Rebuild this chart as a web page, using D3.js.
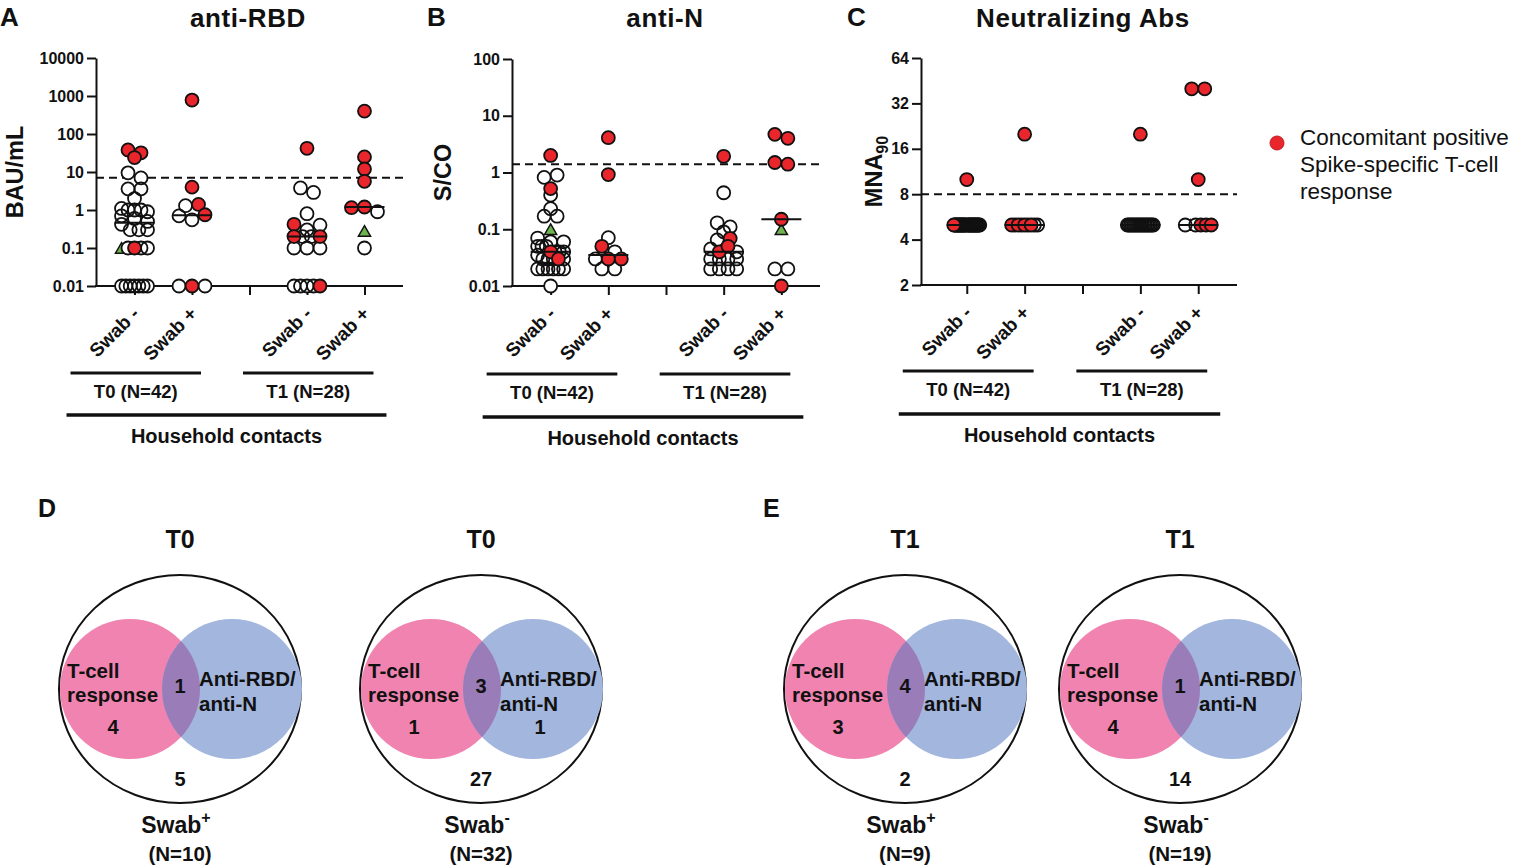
<!DOCTYPE html>
<html>
<head>
<meta charset="utf-8">
<title>Antibody and T-cell responses in household contacts</title>
<script src="https://d3js.org/d3.v7.min.js"></script>
<style>
  body { margin: 0; background: #fff; }
  svg { font-family: Arial, "Liberation Sans", Helvetica, sans-serif; }
</style>
</head>
<body>
<svg id="fig" width="1514" height="866"></svg>
<script>
// ---- data ----
// categories on the x axis (middle one is an empty spacer tick)
const groups = ["T0 Swab-", "T0 Swab+", "gap", "T1 Swab-", "T1 Swab+"];
const groupLabels = ["Swab -", "Swab +", "", "Swab -", "Swab +"];
const timeLabels = ["T0 (N=42)", "T1 (N=28)"];

// each point: [type, value]  o = open, r = concomitant T-cell response, t = triangle
// anti-RBD, BAU/mL
const rbdT0Neg = [["r",38],["r",32],["r",24],["o",9.5],["o",7],["o",3.6],["o",3.6],["o",2.0],
  ["o",1.1],["o",1.0],["o",1.0],["o",1.0],["o",0.9],["o",0.7],["o",0.6],["o",0.5],
  ["o",0.42],["o",0.3],["o",0.3],["o",0.3],
  ["t",0.1],["o",0.1],["r",0.1],["o",0.1],["o",0.1],
  ["o",0.01],["o",0.01],["o",0.01],["o",0.01],["o",0.01],["o",0.01],["o",0.01]];
const rbdT0Pos = [["r",780],["r",4],["o",1.3],["r",1.4],["o",0.7],["o",0.55],["r",0.75],
  ["o",0.01],["r",0.01],["o",0.01]];
const rbdT1Neg = [["r",42],["o",3.8],["o",2.9],["o",0.8],["r",0.42],["o",0.3],["o",0.4],
  ["r",0.2],["o",0.2],["o",0.2],["r",0.2],["o",0.1],["o",0.1],["o",0.1],
  ["o",0.01],["o",0.01],["o",0.01],["o",0.01],["r",0.01]];
const rbdT1Pos = [["r",400],["r",25],["r",12],["r",5.7],["r",1.15],["r",1.2],["o",0.9],["t",0.28],["o",0.1]];
const rbdTicks = [0.01, 0.1, 1, 10, 100, 1000, 10000];
const rbdCutoff = 7.1;

// anti-N, S/CO
const nT0Neg = [["r",2.0],["o",0.82],["o",0.9],["r",0.52],["o",0.4],["o",0.23],["o",0.17],["o",0.17],
  ["t",0.1],["o",0.07],["o",0.06],["o",0.06],
  ["o",0.05],["o",0.05],["o",0.05],["r",0.04],["o",0.04],["o",0.04],["o",0.04],
  ["o",0.035],["o",0.03],["o",0.03],["o",0.03],["r",0.03],["o",0.03],
  ["o",0.02],["o",0.02],["o",0.02],["o",0.02],["o",0.02],["o",0.02],["o",0.01]];
const nT0Pos = [["r",4.1],["r",0.92],["o",0.071],["r",0.05],["o",0.04],["o",0.03],["r",0.03],["r",0.03],
  ["o",0.02],["o",0.02]];
const nT1Neg = [["r",1.93],["o",0.44],["o",0.13],["o",0.11],["o",0.09],["o",0.065],["r",0.069],
  ["o",0.045],["r",0.04],["r",0.05],["o",0.04],
  ["o",0.03],["o",0.03],["o",0.03],["o",0.03],["o",0.02],["o",0.02],["o",0.02],["o",0.02]];
const nT1Pos = [["r",4.7],["r",4.0],["r",1.5],["r",1.4],["r",0.15],["t",0.1],["o",0.02],["r",0.01],["o",0.02]];
const nTicks = [0.01, 0.1, 1, 10, 100];
const nCutoff = 1.4;

// neutralizing antibodies, MNA90
const cT0Neg = [["r",10],["r",5],
  ["o",5],["o",5],["o",5],["o",5],["o",5],["o",5],["o",5],["o",5],["o",5],["o",5],["o",5],["o",5],["o",5],["o",5],
  ["t",5],
  ["o",5],["o",5],["o",5],["o",5],["o",5],["o",5],["o",5],["o",5],["o",5],["o",5],["o",5],["o",5],["o",5],["o",5],["o",5]];
const cT0Pos = [["r",20],["r",5],["o",5],["r",5],["o",5],["r",5],["o",5],["r",5],["o",5],["o",5]];
const cT1Neg = [["r",20],["o",5],["o",5],["o",5],["o",5],["o",5],["o",5],["o",5],["o",5],["o",5],
  ["o",5],["o",5],["o",5],["o",5],["o",5],["o",5],["o",5],["o",5],["o",5]];
const cT1Pos = [["r",40],["r",40],["r",10],["o",5],["t",5],["o",5],["r",5],["r",5],["r",5]];
const cTicks = [2, 4, 8, 16, 32, 64];
const cCutoff = 8;

// Venn panels D and E
const vennTitles = ["T0", "T0", "T1", "T1"];
const vennTcellOnly = [4, 1, 3, 4];
const vennBoth = [1, 3, 4, 1];
const vennAbOnly = ["", "1", "", ""];
const vennNeither = [5, 27, 2, 14];
const vennSwab = ["+", "-", "+", "-"];
const vennN = ["(N=10)", "(N=32)", "(N=9)", "(N=19)"];

// ---- styling / layout ----
const RED = "#e8262b", GREEN = "#6db34f";
const PINK = "#f083b0", BLUE = "#a3b6de", PURPLE = "#9a7cb9";
const svg = d3.select("#fig");

const panels = [
  { letter: "A", letterX: 0, title: "anti-RBD", titleX: 248, yLabel: "BAU/mL", yLabelX: 15,
    axisX: 96, xEnd: 403, range: [96, 403], yTop: 58, yBot: 286, base: 10,
    domain: [0.01, 10000], ticks: rbdTicks, cutoff: rbdCutoff,
    data: [rbdT0Neg, rbdT0Pos, null, rbdT1Neg, rbdT1Pos], lineY: 373, hhY: 415 },
  { letter: "B", letterX: 427, title: "anti-N", titleX: 665, yLabel: "S/CO", yLabelX: 443,
    axisX: 512, xEnd: 820, range: [512, 820], yTop: 59, yBot: 286, base: 10,
    domain: [0.01, 100], ticks: nTicks, cutoff: nCutoff,
    data: [nT0Neg, nT0Pos, null, nT1Neg, nT1Pos], lineY: 374, hhY: 417 },
  { letter: "C", letterX: 847, title: "Neutralizing Abs", titleX: 1083, yLabel: "MNA", sub: "90", yLabelX: 874,
    axisX: 921, xEnd: 1237, range: [928, 1237], yTop: 58, yBot: 285, base: 2,
    domain: [2, 64], ticks: cTicks, cutoff: cCutoff,
    data: [cT0Neg, cT0Pos, null, cT1Neg, cT1Pos], lineY: 371, hhY: 414 }
];

// spread points of similar value into centred rows (GraphPad-like scatter)
function layoutGroup(pts, y, cx) {
  const d = 13, maxSpan = 26, tol = 6;
  const items = pts.map((p, i) => ({ type: p[0], v: p[1], i: i, py: y(p[1]) }));
  const sorted = items.slice().sort((a, b) => (a.py - b.py) || (a.i - b.i));
  const rows = [];
  let row = [];
  sorted.forEach(p => {
    if (row.length && p.py - row[0].py >= tol) { rows.push(row); row = []; }
    row.push(p);
  });
  if (row.length) rows.push(row);
  rows.forEach(rw => {
    rw.sort((a, b) => a.i - b.i);
    const n = rw.length;
    const s = n > 1 ? Math.min(d, maxSpan / (n - 1)) : 0;
    rw.forEach((p, k) => { p.px = cx + (k - (n - 1) / 2) * s; });
  });
  return items;
}

function boldText(g, x, y, str, size, anchor) {
  return g.append("text").attr("x", x).attr("y", y)
    .attr("text-anchor", anchor || "middle")
    .attr("font-weight", "bold").attr("font-size", size)
    .attr("fill", "#111").text(str);
}

const tri = d3.symbol(d3.symbolTriangle, 64);

panels.forEach(p => {
  const g = svg.append("g");
  const y = d3.scaleLog().base(p.base).domain(p.domain).range([p.yBot, p.yTop]);
  const x = d3.scalePoint().domain(groups).range(p.range).padding(0.67);

  // letter + title
  boldText(g, p.letterX, 26, p.letter, 26, "start");
  boldText(g, p.titleX, 27, p.title, 26).attr("letter-spacing", 0.6);

  // y label
  const yl = g.append("text")
    .attr("transform", `translate(${p.yLabelX + 8},${(p.yTop + p.yBot) / 2}) rotate(-90)`)
    .attr("text-anchor", "middle").attr("font-weight", "bold").attr("font-size", 23.5)
    .attr("fill", "#111").text(p.yLabel);
  if (p.sub) yl.append("tspan").attr("dy", 6).attr("font-size", 16).text(p.sub);

  // cutoff
  g.append("line")
    .attr("x1", p.axisX).attr("x2", p.xEnd)
    .attr("y1", y(p.cutoff)).attr("y2", y(p.cutoff))
    .attr("stroke", "#111").attr("stroke-width", 2).attr("stroke-dasharray", "8,5");

  // axes
  const yAxis = g.append("g").attr("transform", `translate(${p.axisX},0)`)
    .call(d3.axisLeft(y).tickValues(p.ticks).tickFormat(d3.format("~g")).tickSize(9).tickSizeOuter(0));
  const xAxis = g.append("g").attr("transform", `translate(0,${p.yBot})`)
    .call(d3.axisBottom(x).tickSize(9).tickFormat("").tickSizeOuter(0));
  xAxis.select(".domain").remove();
  g.append("line").attr("x1", p.axisX - 1).attr("x2", p.xEnd)
    .attr("y1", p.yBot).attr("y2", p.yBot).attr("stroke", "#111").attr("stroke-width", 2);
  [yAxis, xAxis].forEach(a => {
    a.selectAll("path, line").attr("stroke", "#111").attr("stroke-width", 2);
    a.selectAll("text").attr("font-size", 16).attr("font-weight", "bold")
      .attr("fill", "#111").attr("font-family", "Arial, 'Liberation Sans', sans-serif");
  });

  // rotated category labels
  groups.forEach((k, i) => {
    if (!groupLabels[i]) return;
    g.append("text")
      .attr("transform", `translate(${x(k) + 6},${p.yBot + 29}) rotate(-45)`)
      .attr("text-anchor", "end").attr("font-weight", "bold").attr("font-size", 19)
      .attr("fill", "#111").text(groupLabels[i]);
  });

  // points + medians: triangles, open fills, open outlines, then red points on top
  groups.forEach((k, i) => {
    const pts = p.data[i];
    if (!pts) return;
    const cx = x(k);
    const items = layoutGroup(pts, y, cx);
    const open = items.filter(d => d.type === "o");
    g.selectAll(null).data(items.filter(d => d.type === "t")).join("path")
      .attr("d", tri())
      .attr("transform", d => `translate(${d.px},${d.py + 1.7})`)
      .attr("fill", GREEN).attr("stroke", "#111").attr("stroke-width", 1.5);
    g.selectAll(null).data(open).join("circle")
      .attr("cx", d => d.px).attr("cy", d => d.py).attr("r", 6.5).attr("fill", "#fff");
    g.selectAll(null).data(open).join("circle")
      .attr("cx", d => d.px).attr("cy", d => d.py).attr("r", 6.5)
      .attr("fill", "none").attr("stroke", "#111").attr("stroke-width", 1.8);
    g.selectAll(null).data(items.filter(d => d.type === "r")).join("circle")
      .attr("cx", d => d.px).attr("cy", d => d.py).attr("r", 6.5)
      .attr("fill", RED).attr("stroke", "#111").attr("stroke-width", 1.8);
    const med = d3.median(pts, d => d[1]);
    g.append("line").attr("x1", cx - 20).attr("x2", cx + 20)
      .attr("y1", y(med)).attr("y2", y(med))
      .attr("stroke", "#111").attr("stroke-width", 2);
  });

  // time-point brackets
  [[groups[0], groups[1]], [groups[3], groups[4]]].forEach((pair, j) => {
    const xa = x(pair[0]) - 64, xb = x(pair[1]) + 9;
    g.append("line").attr("x1", xa).attr("x2", xb).attr("y1", p.lineY).attr("y2", p.lineY)
      .attr("stroke", "#111").attr("stroke-width", 3);
    boldText(g, (xa + xb) / 2, p.lineY + 25, timeLabels[j], 18.5);
  });
  const ha = x(groups[0]) - 68, hb = x(groups[4]) + 22;
  g.append("line").attr("x1", ha).attr("x2", hb).attr("y1", p.hhY).attr("y2", p.hhY)
    .attr("stroke", "#111").attr("stroke-width", 3.5);
  boldText(g, (ha + hb) / 2, p.hhY + 28, "Household contacts", 20);
});

// legend
const lg = svg.append("g");
lg.append("circle").attr("cx", 1277).attr("cy", 143).attr("r", 7).attr("fill", RED)
  .attr("stroke", "#c21f24").attr("stroke-width", 1);
["Concomitant positive", "Spike-specific T-cell", "response"].forEach((s, i) => {
  lg.append("text").attr("x", 1300).attr("y", 145 + i * 27)
    .attr("font-size", 22.5).attr("fill", "#111").text(s);
});

// ---- Venn diagrams ----
boldText(svg, 38, 517, "D", 25, "start");
boldText(svg, 763, 517, "E", 25, "start");
const vennCx = [180, 481, 905, 1180];
const vcy = 689, vr = 70;
const defs = svg.append("defs");

vennCx.forEach((cx, i) => {
  const g = svg.append("g");
  const pinkX = cx - 50, blueX = cx + 52;
  boldText(g, cx, 548, vennTitles[i], 25);
  g.append("ellipse").attr("cx", cx).attr("cy", vcy).attr("rx", 121).attr("ry", 114)
    .attr("fill", "#fff").attr("stroke", "#111").attr("stroke-width", 2);
  g.append("circle").attr("cx", pinkX).attr("cy", vcy).attr("r", vr).attr("fill", PINK);
  g.append("circle").attr("cx", blueX).attr("cy", vcy).attr("r", vr).attr("fill", BLUE);
  defs.append("clipPath").attr("id", "clip" + i)
    .append("circle").attr("cx", pinkX).attr("cy", vcy).attr("r", vr);
  g.append("circle").attr("cx", blueX).attr("cy", vcy).attr("r", vr)
    .attr("fill", PURPLE).attr("clip-path", `url(#clip${i})`);

  boldText(g, cx - 113, 678, "T-cell", 20.5, "start");
  boldText(g, cx - 113, 702, "response", 20.5, "start");
  boldText(g, cx + 19, 686, "Anti-RBD/", 20.5, "start");
  boldText(g, cx + 19, 711, "anti-N", 20.5, "start");
  boldText(g, cx - 67, 734, vennTcellOnly[i], 20);
  boldText(g, cx, 693, vennBoth[i], 20);
  if (vennAbOnly[i]) boldText(g, cx + 59, 734, vennAbOnly[i], 20);
  boldText(g, cx, 786, vennNeither[i], 20);

  const sw = boldText(g, cx - 4, 833, "Swab", 23);
  sw.append("tspan").attr("dy", -10).attr("font-size", 16).text(vennSwab[i] === "-" ? "\u2011" : "+");
  boldText(g, cx, 861, vennN[i], 20.5);
});
</script>
</body>
</html>
